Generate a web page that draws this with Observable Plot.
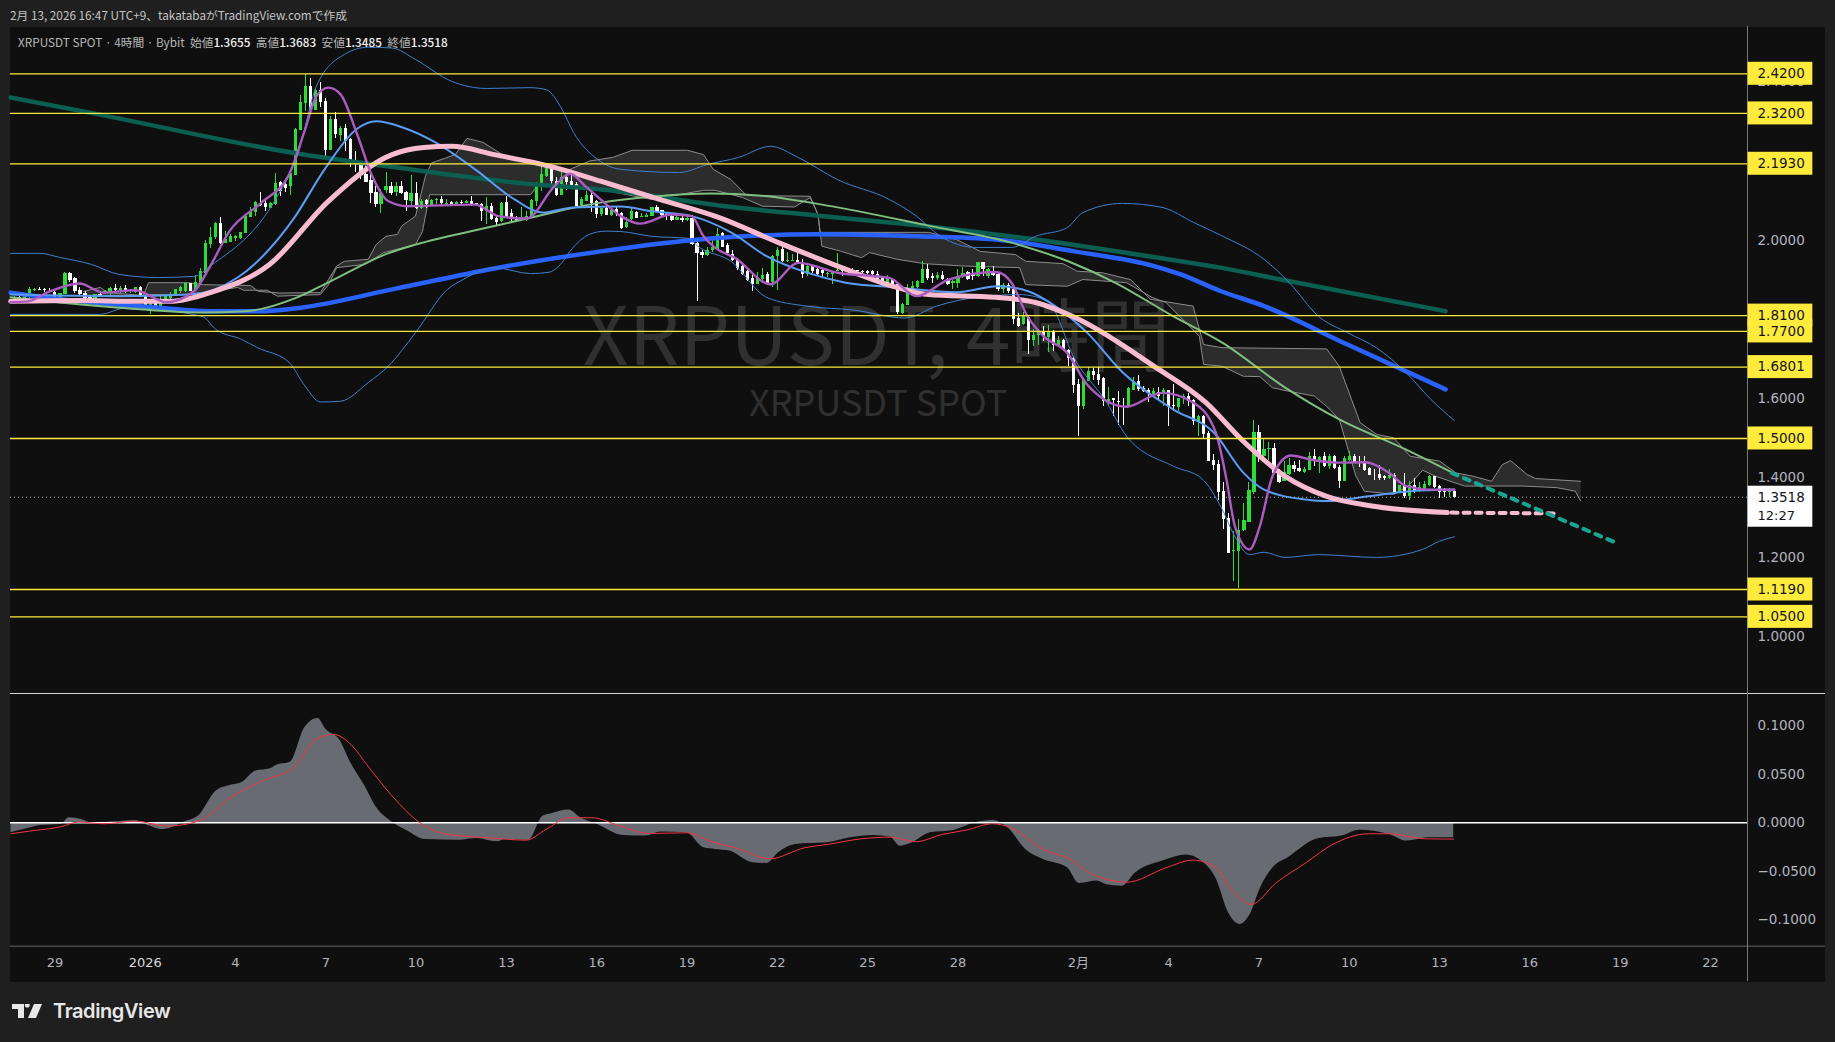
<!DOCTYPE html>
<html><head><meta charset="utf-8">
<script src="https://cdn.jsdelivr.net/npm/d3@7"></script>
<script src="https://cdn.jsdelivr.net/npm/@observablehq/plot@0.6"></script>
<style>
html,body{margin:0;padding:0;background:#1f1f1f;width:1835px;height:1042px;overflow:hidden}
#top{position:absolute;left:10px;top:6px;font:11.75px "Noto Sans CJK JP","Noto Sans",sans-serif;color:#c4c4c4;white-space:nowrap}
#pane{position:absolute;left:10px;top:27px;width:1815px;height:955px;background:#0f0f0f}
#info{position:absolute;left:18px;top:33px;font:11.75px "Noto Sans CJK JP","Noto Sans",sans-serif;color:#b8b8b8;white-space:pre;z-index:3}
#info b{color:#f0f0f0;font-weight:500}
#c1,#c2{position:absolute;left:0}
#c1{top:26px}#c2{top:692px}
svg{display:block}
#brand{position:absolute;left:12px;top:999px;display:flex;align-items:center;color:#e8e8e8;font:600 20px "Inter",sans-serif;letter-spacing:-.4px}
#brand svg{margin-right:11px}
</style></head><body>
<div id="top">2月 13, 2026 16:47 UTC+9、takatabaがTradingView.comで作成</div>
<div id="pane"></div>
<div id="info">XRPUSDT SPOT · 4時間 · Bybit  始値<b>1.3655</b>  高値<b>1.3683</b>  安値<b>1.3485</b>  終値<b>1.3518</b></div>
<div id="c1"></div><div id="c2"></div>
<div id="brand"><svg width="30" height="16" viewBox="0 0 30 16"><path fill="#e8e8e8" d="M0 1h12v14H6V6H0zM13 1h4.500a2.500 2.500 0 1 1-4.500 0zM22 1h8l-6 14h-8z"/></svg>TradingView</div>
<script>
// candles: [open, high, low, close], one per 4 hours, first one at day -26/6 from 1 Jan
const candlesDec=[[1.851,1.857,1.850,1.855],[1.855,1.857,1.850,1.852],[1.850,1.858,1.850,1.857],[1.855,1.881,1.852,1.875],[1.874,1.878,1.871,1.876],[1.876,1.881,1.873,1.874],[1.875,1.879,1.869,1.873],[1.872,1.878,1.869,1.871],[1.869,1.871,1.853,1.856],[1.856,1.866,1.855,1.865],[1.863,1.918,1.863,1.917],[1.916,1.919,1.894,1.898],[1.903,1.907,1.867,1.870],[1.873,1.880,1.859,1.862],[1.866,1.870,1.851,1.854],[1.856,1.858,1.845,1.848],[1.848,1.863,1.846,1.862],[1.864,1.870,1.856,1.861],[1.869,1.873,1.863,1.871],[1.866,1.882,1.856,1.879],[1.879,1.888,1.871,1.874],[1.874,1.883,1.867,1.878],[1.879,1.886,1.867,1.870],[1.870,1.876,1.867,1.874],[1.869,1.882,1.867,1.881],[1.880,1.883,1.855,1.856]];
const candlesJanA=[[1.860,1.861,1.827,1.829],[1.830,1.851,1.813,1.847],[1.849,1.851,1.832,1.834],[1.830,1.857,1.827,1.846],[1.846,1.859,1.842,1.857],[1.852,1.869,1.851,1.864],[1.861,1.877,1.859,1.876],[1.871,1.884,1.867,1.882],[1.872,1.894,1.869,1.892],[1.890,1.891,1.871,1.872],[1.874,1.911,1.872,1.894],[1.891,1.930,1.888,1.920],[1.915,2.000,1.914,1.992],[1.990,2.032,1.979,2.007],[2.007,2.044,2.002,2.043],[2.042,2.057,1.990,1.992],[1.992,2.022,1.992,2.002],[1.995,2.015,1.995,2.009],[2.005,2.012,1.998,2.009],[2.004,2.020,2.002,2.019],[2.017,2.062,2.017,2.061],[2.058,2.083,2.057,2.069],[2.069,2.098,2.061,2.096],[2.094,2.120,2.084,2.089],[2.093,2.105,2.073,2.083],[2.081,2.096,2.079,2.093]];
const candlesJanB=[[2.090,2.168,2.088,2.142],[2.145,2.149,2.111,2.124],[2.141,2.147,2.121,2.130],[2.135,2.170,2.113,2.168],[2.164,2.281,2.163,2.279],[2.278,2.364,2.276,2.348],[2.345,2.418,2.326,2.387],[2.389,2.408,2.322,2.328],[2.328,2.380,2.327,2.378],[2.377,2.399,2.334,2.348],[2.351,2.357,2.205,2.227],[2.227,2.313,2.226,2.305],[2.305,2.322,2.256,2.267],[2.265,2.286,2.248,2.281],[2.282,2.292,2.225,2.249],[2.253,2.256,2.183,2.194],[2.195,2.224,2.170,2.194],[2.194,2.195,2.153,2.163],[2.166,2.191,2.145,2.147],[2.151,2.178,2.094,2.118],[2.120,2.136,2.083,2.090],[2.091,2.128,2.067,2.118],[2.125,2.171,2.118,2.136],[2.136,2.145,2.113,2.118],[2.120,2.145,2.111,2.135],[2.136,2.148,2.115,2.117],[2.120,2.124,2.073,2.100],[2.099,2.163,2.082,2.118],[2.118,2.145,2.078,2.081],[2.081,2.103,2.078,2.099],[2.100,2.103,2.079,2.090],[2.089,2.103,2.088,2.101],[2.101,2.105,2.090,2.103],[2.103,2.111,2.089,2.093],[2.091,2.103,2.088,2.093],[2.096,2.098,2.086,2.091],[2.091,2.098,2.089,2.096],[2.096,2.100,2.088,2.094],[2.094,2.100,2.093,2.099],[2.098,2.111,2.086,2.090],[2.092,2.094,2.088,2.090],[2.090,2.094,2.048,2.073],[2.073,2.108,2.039,2.084],[2.086,2.094,2.051,2.052],[2.055,2.061,2.036,2.046],[2.047,2.096,2.044,2.094],[2.096,2.111,2.054,2.057],[2.068,2.078,2.044,2.052],[2.056,2.061,2.046,2.048]];
const candlesJanC=[[2.051,2.082,2.049,2.054],[2.051,2.073,2.048,2.061],[2.057,2.103,2.054,2.100],[2.098,2.145,2.084,2.141],[2.138,2.185,2.123,2.166],[2.162,2.194,2.158,2.185],[2.184,2.189,2.138,2.148],[2.149,2.158,2.111,2.113],[2.113,2.177,2.113,2.158],[2.158,2.163,2.126,2.145],[2.148,2.168,2.130,2.138],[2.141,2.147,2.084,2.086],[2.088,2.109,2.086,2.104],[2.099,2.124,2.097,2.113],[2.113,2.124,2.071,2.094],[2.099,2.101,2.055,2.065],[2.064,2.081,2.059,2.080],[2.081,2.083,2.062,2.062],[2.063,2.078,2.059,2.076],[2.078,2.084,2.061,2.068],[2.068,2.071,2.027,2.030],[2.031,2.057,2.029,2.046],[2.052,2.079,2.051,2.072],[2.070,2.072,2.054,2.056],[2.058,2.067,2.057,2.061],[2.057,2.067,2.057,2.063],[2.060,2.083,2.059,2.083],[2.082,2.088,2.070,2.072],[2.074,2.076,2.061,2.062],[2.064,2.069,2.051,2.061],[2.061,2.063,2.048,2.050],[2.051,2.061,2.049,2.057],[2.056,2.061,2.046,2.050],[2.050,2.059,2.047,2.055],[2.054,2.063,1.987,1.990],[1.992,1.994,1.846,1.967],[1.970,1.974,1.954,1.962],[1.962,1.983,1.960,1.974],[1.973,2.006,1.968,1.981],[1.978,2.030,1.977,2.015],[2.016,2.019,1.981,1.983],[1.987,1.992,1.964,1.967],[1.964,1.973,1.946,1.950],[1.949,1.953,1.925,1.928],[1.933,1.936,1.911,1.914],[1.920,1.925,1.896,1.899]];
const candlesJanD=[[1.904,1.914,1.871,1.888],[1.888,1.918,1.888,1.904],[1.901,1.929,1.897,1.912],[1.914,1.918,1.889,1.891],[1.893,1.962,1.881,1.960],[1.958,1.983,1.874,1.975],[1.977,1.992,1.943,1.946],[1.946,1.968,1.945,1.948],[1.947,1.963,1.946,1.950],[1.948,1.968,1.940,1.941],[1.942,1.951,1.904,1.914],[1.914,1.936,1.909,1.935],[1.934,1.935,1.915,1.920],[1.926,1.930,1.911,1.914],[1.924,1.926,1.904,1.916],[1.914,1.918,1.905,1.916],[1.914,1.922,1.888,1.921],[1.921,1.967,1.920,1.925],[1.926,1.932,1.909,1.921],[1.920,1.928,1.918,1.925],[1.925,1.929,1.918,1.920],[1.923,1.925,1.916,1.920],[1.922,1.925,1.915,1.918],[1.922,1.925,1.914,1.916],[1.920,1.924,1.912,1.914],[1.914,1.920,1.896,1.899],[1.905,1.909,1.893,1.895],[1.892,1.912,1.890,1.904],[1.900,1.903,1.885,1.887],[1.888,1.891,1.813,1.817],[1.815,1.840,1.814,1.838],[1.836,1.888,1.835,1.871],[1.868,1.897,1.866,1.884],[1.880,1.899,1.878,1.896],[1.892,1.946,1.890,1.926],[1.926,1.939,1.899,1.903],[1.908,1.916,1.891,1.903],[1.903,1.918,1.899,1.912],[1.911,1.920,1.898,1.901],[1.901,1.903,1.886,1.888],[1.891,1.899,1.877,1.895],[1.891,1.926,1.878,1.908],[1.908,1.931,1.904,1.915],[1.918,1.922,1.898,1.901],[1.916,1.926,1.899,1.908],[1.908,1.945,1.905,1.943],[1.943,1.945,1.908,1.926],[1.908,1.930,1.903,1.926],[1.922,1.933,1.909,1.911],[1.914,1.918,1.872,1.877],[1.876,1.891,1.867,1.887],[1.887,1.890,1.867,1.870]];
const candlesFebA=[[1.876,1.883,1.787,1.800],[1.803,1.815,1.779,1.783],[1.787,1.817,1.786,1.807],[1.806,1.809,1.712,1.748],[1.748,1.775,1.733,1.760],[1.759,1.775,1.735,1.769],[1.771,1.782,1.745,1.758],[1.756,1.785,1.716,1.771],[1.771,1.773,1.720,1.735],[1.733,1.758,1.731,1.747],[1.748,1.750,1.720,1.723],[1.722,1.724,1.681,1.703],[1.703,1.705,1.613,1.634],[1.636,1.650,1.506,1.581],[1.580,1.650,1.573,1.649],[1.645,1.678,1.644,1.669],[1.670,1.676,1.647,1.659],[1.661,1.678,1.634,1.647],[1.652,1.654,1.580,1.594],[1.594,1.628,1.583,1.598],[1.600,1.601,1.556,1.596],[1.594,1.619,1.533,1.592],[1.581,1.600,1.533,1.580],[1.580,1.628,1.578,1.625],[1.622,1.654,1.620,1.645],[1.644,1.659,1.619,1.623],[1.627,1.632,1.615,1.619],[1.621,1.625,1.592,1.613],[1.611,1.626,1.608,1.618],[1.617,1.628,1.598,1.605],[1.613,1.625,1.581,1.621],[1.621,1.622,1.531,1.581],[1.583,1.636,1.569,1.581],[1.577,1.602,1.568,1.600],[1.600,1.610,1.586,1.607],[1.607,1.613,1.581,1.594],[1.597,1.598,1.533,1.544],[1.542,1.558,1.506,1.556],[1.556,1.558,1.499,1.509],[1.512,1.518,1.441,1.443],[1.445,1.459,1.419,1.433],[1.434,1.445,1.344,1.364],[1.366,1.388,1.270,1.295],[1.298,1.312,1.210,1.211],[1.215,1.266,1.140,1.217],[1.216,1.295,1.121,1.269],[1.267,1.336,1.266,1.294],[1.289,1.388,1.287,1.369]];
const candlesFebB=[[1.364,1.545,1.359,1.514],[1.514,1.534,1.440,1.457],[1.455,1.499,1.440,1.472],[1.471,1.489,1.445,1.475],[1.475,1.487,1.411,1.412],[1.415,1.422,1.386,1.390],[1.392,1.443,1.391,1.415],[1.408,1.449,1.407,1.432],[1.432,1.443,1.413,1.422],[1.424,1.444,1.413,1.416],[1.415,1.426,1.412,1.423],[1.420,1.465,1.419,1.454],[1.454,1.472,1.430,1.444],[1.442,1.454,1.412,1.451],[1.454,1.465,1.426,1.429],[1.429,1.460,1.422,1.455],[1.455,1.457,1.423,1.424],[1.428,1.432,1.374,1.392],[1.392,1.454,1.391,1.449],[1.444,1.466,1.441,1.454],[1.454,1.460,1.439,1.440],[1.442,1.455,1.428,1.441],[1.442,1.455,1.417,1.420],[1.425,1.428,1.407,1.407],[1.410,1.423,1.394,1.408],[1.409,1.432,1.395,1.398],[1.403,1.407,1.395,1.399],[1.399,1.422,1.396,1.407],[1.407,1.412,1.358,1.363],[1.363,1.382,1.361,1.381],[1.381,1.412,1.349,1.353],[1.353,1.392,1.344,1.381],[1.381,1.398,1.361,1.368],[1.368,1.390,1.363,1.376],[1.374,1.392,1.370,1.385],[1.381,1.407,1.380,1.405],[1.404,1.405,1.375,1.376],[1.378,1.381,1.349,1.364],[1.366,1.375,1.352,1.364],[1.364,1.373,1.352,1.366],[1.3655,1.3683,1.3485,1.3518]];
// indicator lines: [day since 1 Jan, price]
const emaLong=[[-4.47,2.360],[-1.85,2.322],[5.05,2.219],[8.32,2.184],[12.27,2.146],[15.8,2.123],[19.05,2.088],[22.35,2.062],[26.02,2.035],[29.58,2.002],[34.4,1.947],[35.72,1.931],[37.85,1.899],[43.2,1.821]];
const emaBlue=[[-4.47,1.868],[-2.18,1.846],[.44,1.830],[2.04,1.821],[3.73,1.821],[5.18,1.830],[8.32,1.878],[11.6,1.929],[15.13,1.972],[18.15,2.000],[20.38,2.012],[22.35,2.015],[25.62,2.010],[28.25,2.002],[30.87,1.972],[33.52,1.935],[34.4,1.914],[35.72,1.872],[37.17,1.834],[39.94,1.737],[43.2,1.624]];
const emaPink=[[-4.47,1.846],[-2.18,1.848],[-.22,1.846],[.84,1.846],[2.16,1.868],[4.13,1.939],[6.09,2.099],[8.2,2.216],[9.25,2.234],[10.18,2.237],[11.6,2.216],[13.59,2.184],[15.13,2.149],[17.09,2.103],[19.07,2.057],[21.04,1.994],[23.0,1.935],[24.98,1.881],[26.02,1.863],[28.25,1.856],[29.58,1.843],[30.89,1.805],[33.52,1.682],[35.23,1.591],[36.48,1.493],[37.86,1.405],[39.25,1.354],[40.64,1.331],[43.26,1.313]];
const pinkProjection=[[43.4,1.313],[46.82,1.311]];
const tealProjection=[[43.41,1.413],[48.83,1.238]];
const maGreen=[[-4.47,1.856],[-2.85,1.843],[-.87,1.830],[1.77,1.818],[3.33,1.821],[5.05,1.856],[6.09,1.894],[8.07,1.967],[8.98,1.989],[11.6,2.036],[12.8,2.057],[15.13,2.095],[16.83,2.110],[18.8,2.118],[20.38,2.113],[23.0,2.083],[26.02,2.037],[28.78,1.994],[30.76,1.944],[32.2,1.894],[34.16,1.808],[35.78,1.742],[37.86,1.629],[39.67,1.548],[41.89,1.472],[43.55,1.409]];
const bbMid=[[-4.47,1.863],[-.87,1.859],[1.5,1.863],[3.07,1.906],[4.91,2.052],[5.96,2.179],[7.02,2.280],[7.67,2.300],[8.58,2.284],[9.64,2.247],[10.96,2.179],[12.27,2.103],[13.19,2.070],[14.23,2.083],[15.8,2.085],[16.82,2.073],[18.15,2.061],[19.46,2.020],[20.64,1.960],[21.96,1.919],[23.27,1.893],[24.98,1.881],[26.95,1.869],[28.32,1.884],[29.31,1.872],[30.23,1.834],[31.29,1.767],[32.47,1.667],[34.16,1.573],[35.5,1.515],[36.48,1.414],[37.17,1.371],[38.55,1.346],[39.25,1.342],[40.64,1.354],[42.03,1.367],[43.49,1.371]];
const bbUpper=[[-4.47,1.967],[-3.5,1.967],[-2.85,1.957],[-1.78,1.939],[-.87,1.914],[.44,1.906],[1.64,1.909],[2.16,1.935],[4.39,2.111],[5.05,2.212],[5.69,2.389],[6.62,2.469],[7.41,2.487],[8.2,2.485],[8.98,2.456],[10.18,2.401],[11.34,2.383],[12.8,2.385],[13.32,2.380],[13.85,2.330],[14.23,2.272],[15.03,2.204],[15.8,2.179],[17.75,2.171],[18.67,2.191],[19.71,2.209],[20.78,2.237],[21.69,2.209],[23.0,2.153],[24.72,2.103],[25.62,2.061],[26.42,2.010],[27.6,1.982],[28.78,1.982],[29.58,2.010],[30.63,2.032],[31.15,2.070],[32.47,2.093],[33.78,2.083],[34.83,2.045],[35.72,2.013],[37.17,1.952],[38.0,1.894],[38.98,1.808],[39.94,1.767],[40.9,1.729],[41.89,1.666],[42.72,1.598],[43.49,1.545]];
const bbLower=[[-4.47,1.813],[-1.52,1.813],[-.6,1.830],[1.89,1.808],[2.35,1.775],[3.2,1.750],[3.73,1.729],[4.78,1.692],[5.31,1.632],[5.82,1.592],[6.49,1.594],[7.41,1.641],[8.07,1.682],[8.98,1.767],[10.04,1.876],[10.56,1.901],[11.6,1.931],[12.8,1.916],[13.39,1.919],[13.85,1.944],[14.11,1.972],[14.76,2.015],[15.29,2.023],[15.8,2.022],[16.83,2.010],[18.02,2.005],[18.41,1.982],[19.46,1.947],[20.64,1.856],[21.96,1.834],[23.53,1.824],[25.24,1.804],[26.29,1.834],[27.6,1.856],[29.05,1.863],[29.98,1.846],[30.89,1.699],[31.94,1.591],[32.6,1.506],[34.16,1.430],[35.1,1.399],[35.78,1.321],[36.19,1.254],[36.69,1.207],[37.17,1.213],[37.86,1.200],[38.98,1.207],[40.9,1.200],[42.43,1.220],[43.0,1.241],[43.49,1.252]];
const emaPurple=[[-4.47,1.844],[-3.89,1.846],[-3.23,1.869],[-2.18,1.891],[-1.39,1.868],[-.34,1.874],[.71,1.844],[1.63,1.872],[2.16,1.935],[2.8,2.023],[3.86,2.095],[4.78,2.166],[5.31,2.279],[5.69,2.364],[6.09,2.385],[6.49,2.368],[7.02,2.272],[7.54,2.162],[8.07,2.099],[8.71,2.086],[10.96,2.090],[11.74,2.061],[12.67,2.055],[13.59,2.136],[14.11,2.168],[14.63,2.136],[15.13,2.103],[15.8,2.061],[16.44,2.042],[17.49,2.065],[18.15,2.061],[18.55,2.010],[18.94,1.981],[19.59,1.956],[20.78,1.889],[21.69,1.943],[23.0,1.918],[24.72,1.905],[25.62,1.859],[26.69,1.901],[28.26,1.920],[28.78,1.893],[29.31,1.808],[29.84,1.758],[30.63,1.716],[31.29,1.636],[32.6,1.580],[33.78,1.615],[34.83,1.590],[35.57,1.514],[35.92,1.397],[36.2,1.279],[36.69,1.220],[37.03,1.279],[37.45,1.405],[38.07,1.457],[38.7,1.447],[39.67,1.439],[40.5,1.440],[41.33,1.413],[41.89,1.380],[42.72,1.371],[43.49,1.371]];
const cloudTop=[[-2.05,1.871],[-1.49,1.881],[-1.25,1.868],[-.06,1.861],[.11,1.893],[1.41,1.893],[1.94,1.888],[3.5,1.886],[3.76,1.871],[4.49,1.867],[5.82,1.868],[6.09,1.901],[6.36,1.935],[6.62,1.947],[7.41,1.952],[7.67,1.989],[8.0,2.010],[8.38,2.015],[8.52,2.036],[8.98,2.061],[9.31,2.162],[9.51,2.195],[10.3,2.216],[10.69,2.257],[11.22,2.247],[11.87,2.216],[12.67,2.196],[13.96,2.174],[14.76,2.200],[15.53,2.209],[16.18,2.227],[18.02,2.227],[18.55,2.216],[18.87,2.179],[19.46,2.153],[19.98,2.113],[22.09,2.111],[22.35,2.065],[22.42,2.020],[26.02,2.020],[26.95,2.002],[27.74,1.972],[28.91,1.964],[29.25,1.947],[30.49,1.941],[30.96,1.922],[31.8,1.918],[32.73,1.901],[33.4,1.851],[34.81,1.834],[35.16,1.737],[35.78,1.729],[39.25,1.726],[39.67,1.682],[40.36,1.540],[40.92,1.510],[41.47,1.502],[42.03,1.455],[43.0,1.443],[43.55,1.413],[44.11,1.405],[44.73,1.392],[45.08,1.434],[45.36,1.444],[45.91,1.409],[46.19,1.399],[47.69,1.392]];
const cloudBottom=[[-2.05,1.861],[-.06,1.861],[.11,1.863],[1.27,1.863],[2.17,1.871],[3.07,1.881],[3.27,1.874],[4.06,1.874],[4.39,1.859],[5.82,1.863],[6.09,1.888],[6.36,1.931],[7.29,1.939],[7.93,1.969],[8.98,1.989],[9.21,2.022],[9.45,2.115],[12.8,2.115],[13.07,2.141],[15.13,2.128],[16.82,2.103],[18.55,2.126],[18.94,2.126],[19.84,2.108],[20.51,2.086],[21.57,2.084],[22.09,2.108],[22.35,2.065],[22.48,1.985],[23.13,1.972],[23.8,1.956],[24.06,1.969],[24.98,1.952],[25.89,1.941],[27.21,1.935],[29.05,1.931],[29.25,1.888],[30.63,1.884],[31.15,1.901],[32.6,1.893],[33.45,1.856],[33.91,1.843],[35.02,1.758],[35.16,1.687],[35.78,1.682],[36.48,1.657],[37.03,1.656],[37.45,1.628],[38.0,1.619],[38.84,1.607],[39.25,1.581],[39.67,1.548],[40.22,1.405],[40.5,1.367],[41.47,1.359],[41.96,1.380],[42.44,1.420],[42.86,1.405],[43.83,1.380],[45.77,1.380],[46.89,1.376],[47.51,1.367],[47.69,1.342]];
// oscillator: [day, value]
const oscArea=[[-4.46,-.0103],[-4.04,-.0069],[-3.47,-.0027],[-2.80,-.0017],[-2.52,.0052],[-2.14,.0034],[-1.76,0],[-.99,.0010],[-.33,.0024],[.15,-.0034],[.53,-.0069],[.92,-.0045],[1.30,.0007],[1.77,.0069],[2.35,.0326],[2.82,.0385],[3.20,.0412],[3.68,.0533],[4.16,.0557],[4.35,.0591],[4.82,.0625],[5.30,.0979],[5.74,.1076],[6.01,.0962],[6.45,.0859],[6.83,.0619],[7.30,.0378],[7.69,.0155],[8.16,.0017],[8.73,-.0086],[9.31,-.0172],[10.45,-.0179],[11.02,-.0162],[11.69,-.0196],[11.98,-.0172],[12.74,-.0179],[13.22,.0069],[13.50,.0093],[14.08,.0131],[14.46,.0052],[15.03,-.0017],[15.89,-.0131],[16.65,-.0137],[17.13,-.0096],[17.99,-.0103],[18.56,-.0258],[18.94,-.0275],[19.42,-.0292],[20.18,-.0412],[20.66,-.0419],[21.04,-.0309],[21.61,-.0223],[22.66,-.0206],[23.42,-.0155],[24.18,-.0131],[24.76,-.0148],[25.09,-.0241],[25.49,-.0206],[26.08,-.0103],[26.87,-.0079],[27.57,0],[28.16,.0024],[28.66,-.0052],[29.25,-.0275],[29.84,-.0378],[30.64,-.0464],[31.03,-.0625],[31.63,-.0601],[31.92,-.0636],[32.46,-.0653],[32.91,-.0515],[33.81,-.0395],[34.60,-.0333],[35.09,-.0395],[35.59,-.0584],[35.99,-.0928],[36.38,-.1048],[36.68,-.0962],[37.08,-.0653],[37.47,-.0464],[37.97,-.0361],[38.96,-.0165],[39.75,-.0137],[40.34,-.0076],[41.33,-.0120],[41.93,-.0189],[42.62,-.0155],[43.47,-.0155]];
const oscSignal=[[-4.46,-.0113],[-3.85,-.0086],[-2.80,-.0041],[-2.23,.0007],[-1.37,-.0010],[-.33,.0017],[.72,-.0034],[1.77,.0017],[2.82,.0258],[3.87,.0430],[4.92,.0567],[5.68,.0859],[6.26,.0911],[6.83,.0808],[7.40,.0584],[8.16,.0292],[9.21,-.0017],[10.07,-.0120],[11.41,-.0155],[12.65,-.0179],[13.31,-.0069],[14.08,.0052],[14.84,.0052],[15.79,-.0034],[16.75,-.0110],[17.99,-.0103],[18.84,-.0199],[19.61,-.0258],[20.75,-.0371],[21.90,-.0258],[22.66,-.0223],[23.80,-.0165],[24.76,-.0148],[25.59,-.0196],[26.48,-.0120],[27.27,-.0076],[28.16,-.0010],[28.76,-.0052],[29.84,-.0275],[30.74,-.0378],[31.33,-.0509],[32.62,-.0612],[33.91,-.0464],[34.80,-.0385],[35.49,-.0447],[36.18,-.0722],[36.74,-.0842],[37.57,-.0619],[38.56,-.0412],[39.45,-.0223],[40.64,-.0113],[41.33,-.0113],[42.52,-.0165],[43.47,-.0168]];
const levels=[2.42,2.32,2.193,1.81,1.77,1.6801,1.5,1.119,1.05];
const priceTicks=[2.4,2.0,1.6,1.4,1.2,1.0];
const oscTicks=[.1,.05,0,-.05,-.1];
const timeDays=[-3,0,3,6,9,12,15,18,21,24,27,31,34,37,40,43,46,49,52];
const timeLabels=["29","2026","4","7","10","13","16","19","22","25","28","2月","4","7","10","13","16","19","22"];
const lastClose=1.3518, countdown="12:27";
const watermark="XRPUSDT, 4時間", watermarkSub="XRPUSDT SPOT";

const candles=[...candlesDec,...candlesJanA,...candlesJanB,...candlesJanC,...candlesJanD,...candlesFebA,...candlesFebB]
  .map((c,i)=>({day:(i-26)/6,o:c[0],h:c[1],l:c[2],c:c[3]}));
const GREEN="#2edc37",WHITE="#ffffff",YELLOW="#ffeb3b",TICK="#b2b5be";
const col=d=>d.c>=d.o?GREEN:WHITE;
const X={domain:[-4.475,53.23],range:[10,1747]};
const axisDay=53.23, rightDay=55.4, edgeDay=55.82, leftDay=-4.475;
const FONT="DejaVu Sans";
const dx=d=>d[0], dy=d=>d[1];
const L=(a,o)=>Plot.line(a,{x:dx,y:dy,curve:"monotone-x",...o});
const cloudPoly=[...cloudTop,...cloudBottom.slice().reverse()];

const price=Plot.plot({width:1835,height:666,margin:0,style:{background:"transparent",overflow:"hidden"},
  x:{...X,axis:null},y:{domain:[.8592,2.5393],range:[666,0],axis:null},
  marks:[
    Plot.text([watermark],{x:24.3,y:1.750,text:d=>d,fontSize:80,fontFamily:"Noto Sans CJK JP",fill:"#303030"}),
    Plot.text([watermarkSub],{x:24.35,y:1.586,text:d=>d,fontSize:36,fontFamily:"Noto Sans CJK JP",fill:"#303030"}),
    Plot.line(cloudPoly,{x:dx,y:dy,fill:"rgba(255,255,255,.12)",stroke:"none"}),
    L(cloudTop,{curve:"linear",stroke:"#8c8c8c",strokeWidth:1}),
    L(cloudBottom,{curve:"linear",stroke:"#8c8c8c",strokeWidth:1}),
    Plot.ruleX(candles,{x:"day",y1:"l",y2:"h",stroke:col,strokeWidth:1,shapeRendering:"crispEdges"}),
    Plot.ruleX(candles,{x:"day",y1:"o",y2:"c",stroke:col,strokeWidth:3.2,shapeRendering:"crispEdges"}),
    L(emaLong,{stroke:"#0b5f50",strokeWidth:4.5}),
    L(emaBlue,{stroke:"#2962ff",strokeWidth:4.5}),
    L(bbUpper,{stroke:"#3f7fce",strokeWidth:1}),
    L(bbLower,{stroke:"#3f7fce",strokeWidth:1}),
    L(maGreen,{stroke:"#7fbf80",strokeWidth:2}),
    L(bbMid,{stroke:"#5b9cf6",strokeWidth:2}),
    L(emaPink,{stroke:"#f8bbd0",strokeWidth:5}),
    L(pinkProjection,{stroke:"#f8bbd0",strokeWidth:4,strokeDasharray:"6,6",curve:"linear"}),
    L(tealProjection,{stroke:"#1aa590",strokeWidth:4,strokeDasharray:"6,7",curve:"linear"}),
    L(emaPurple,{stroke:"#ab5cc0",strokeWidth:2.4}),
    Plot.ruleY([lastClose],{x1:leftDay,x2:axisDay,stroke:"#b0b0b0",strokeWidth:1,strokeDasharray:"1,3"}),
    Plot.ruleY(levels,{x1:leftDay,x2:axisDay,stroke:YELLOW,strokeWidth:1.3}),
    Plot.ruleX([axisDay],{stroke:"#787878",strokeWidth:1}),
    Plot.text(priceTicks,{x:axisDay,y:d=>d,dx:10,text:d=>d.toFixed(4),textAnchor:"start",fontSize:13.5,fontFamily:FONT,fill:TICK}),
    Plot.rect(levels,{x1:axisDay+.02,x2:rightDay,y1:d=>d-.029,y2:d=>d+.029,fill:YELLOW}),
    Plot.text(levels,{x:axisDay,y:d=>d,dx:10,text:d=>d.toFixed(4),textAnchor:"start",fontSize:13.5,fontFamily:FONT,fill:"#131722"}),
    Plot.rect([lastClose],{x1:axisDay+.02,x2:rightDay,y1:d=>d+.0278,y2:d=>d-.0757,fill:"#ffffff"}),
    Plot.text([lastClose],{x:axisDay,y:d=>d,dx:10,text:d=>d.toFixed(4),textAnchor:"start",fontSize:13.5,fontFamily:FONT,fill:"#131722"}),
    Plot.text([countdown],{x:axisDay,y:lastClose-.0474,dx:10,text:d=>d,textAnchor:"start",fontSize:13,fontFamily:FONT,fill:"#131722"})
  ]});
document.getElementById("c1").append(price);

const osc=Plot.plot({width:1835,height:289,margin:0,style:{background:"transparent",overflow:"hidden"},
  x:{...X,axis:null},y:{domain:[-.1636,.1343],range:[289,0],axis:null},
  marks:[
    Plot.areaY(oscArea,{x:dx,y1:0,y2:dy,fill:"#696b72",curve:"monotone-x"}),
    Plot.ruleY([0],{x1:leftDay,x2:axisDay,stroke:"#ffffff",strokeWidth:1.5}),
    L(oscSignal,{stroke:"#f23645",strokeWidth:1}),
    Plot.ruleY([.1333],{x1:leftDay,x2:edgeDay,stroke:"#d8d8d8",strokeWidth:1}),
    Plot.ruleY([-.1272],{x1:leftDay,x2:edgeDay,stroke:"#666666",strokeWidth:1}),
    Plot.ruleX([axisDay],{stroke:"#787878",strokeWidth:1}),
    Plot.text(oscTicks,{x:axisDay,y:d=>d,dx:10,text:d=>d.toFixed(4).replace("-","−"),textAnchor:"start",fontSize:13.5,fontFamily:FONT,fill:TICK}),
    Plot.text(timeDays,{x:d=>d,y:-.1443,text:(d,i)=>timeLabels[i],fontSize:13,fontFamily:"DejaVu Sans, Noto Sans CJK JP",fill:(d,i)=>(timeLabels[i]==="2026"?"#d8d8d8":TICK),fontWeight:(d,i)=>(timeLabels[i]==="2026"?"bold":"normal")})
  ]});
document.getElementById("c2").append(osc);
</script></body></html>
